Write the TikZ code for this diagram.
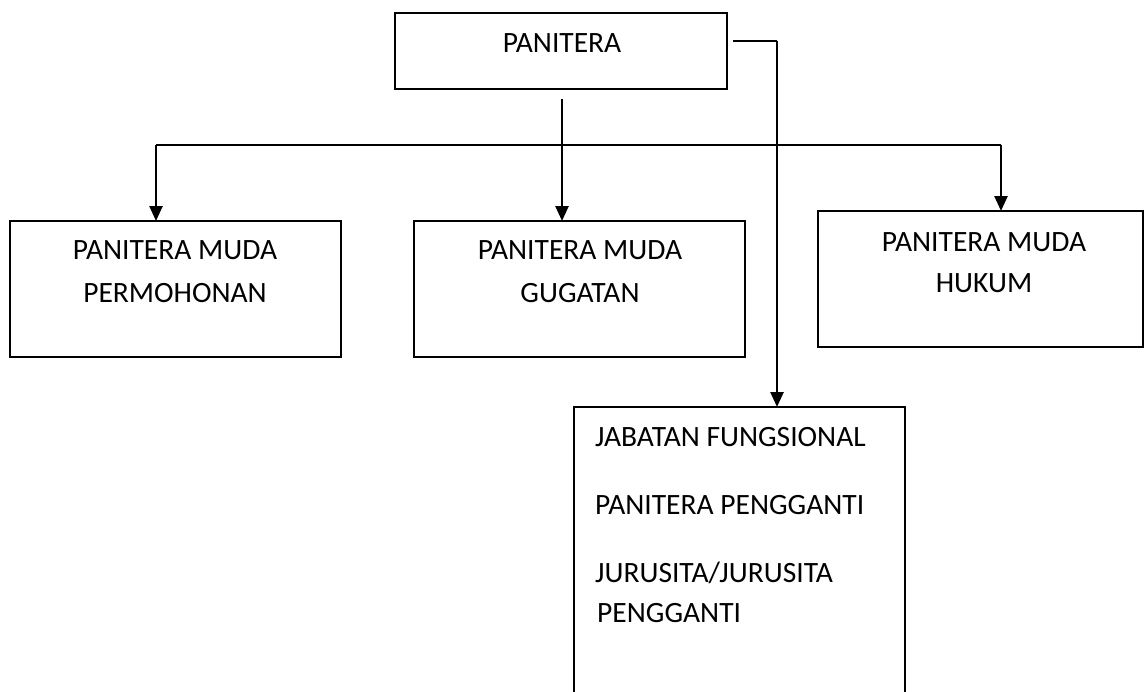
\documentclass[tikz,border=0pt]{standalone}
\usepackage{fontspec}
\setmainfont{Carlito}
\usetikzlibrary{arrows.meta}
\begin{document}
\begin{tikzpicture}[x=1pt,y=-1pt,
  box/.style={draw,line width=2pt,inner sep=0pt,outer sep=0pt},
  lbl/.style={font=\fontsize{29.5}{35}\selectfont,inner sep=0pt},
  conn/.style={line width=2.2pt},
  arr/.style={line width=2.5pt,-{Triangle[length=15pt,width=13pt]}}]
\useasboundingbox (0,0) rectangle (1145,691);
% boxes
\node[box,minimum width=332pt,minimum height=76pt] (pan) at (561,51) {};
\node[box,minimum width=331pt,minimum height=136pt] (perm) at (175.5,289) {};
\node[box,minimum width=331pt,minimum height=136pt] (gug) at (579.5,289) {};
\node[box,minimum width=325pt,minimum height=136pt] (huk) at (980.5,279) {};
\node[inner sep=0pt,outer sep=0pt,minimum width=331pt,minimum height=300pt] (jab) at (739.5,557) {};
\draw[line width=2pt] (jab.south west) -- (jab.north west) -- (jab.north east) -- (jab.south east);
% texts
\node[lbl,anchor=base] (tpan) at (562,52) {PANITERA};
\node[lbl,anchor=base] (tperm1) at (175,259) {PANITERA MUDA};
\node[lbl,anchor=base] (tperm2) at (175,302) {PERMOHONAN};
\node[lbl,anchor=base] (tgug1) at (580,259) {PANITERA MUDA};
\node[lbl,anchor=base] (tgug2) at (580,302) {GUGATAN};
\node[lbl,anchor=base] (thuk1) at (984,251) {PANITERA MUDA};
\node[lbl,anchor=base] (thuk2) at (984,292) {HUKUM};
\node[lbl,anchor=base west] (tjab1) at (595,446) {JABATAN FUNGSIONAL};
\node[lbl,anchor=base west] (tjab2) at (595,514) {PANITERA PENGGANTI};
\node[lbl,anchor=base west] (tjab3) at (595,582) {JURUSITA/JURUSITA};
\node[lbl,anchor=base west] (tjab4) at (597,622) {PENGGANTI};
% connectors
\coordinate (drop) at (562,99);
\coordinate (bl) at (156,145);
\coordinate (br) at (1001,145);
\coordinate (tapstart) at (733,41);
\coordinate (tap) at (777,41);
\draw[arr] (drop) -- (drop |- gug.north);
\draw[conn] (bl) -- (br);
\draw[arr] (bl) -- (bl |- perm.north);
\draw[arr] (br) -- (br |- huk.north);
\draw[conn] (tapstart) -- (tap);
\draw[arr] (tap) -- (tap |- jab.north);
\end{tikzpicture}
\end{document}
